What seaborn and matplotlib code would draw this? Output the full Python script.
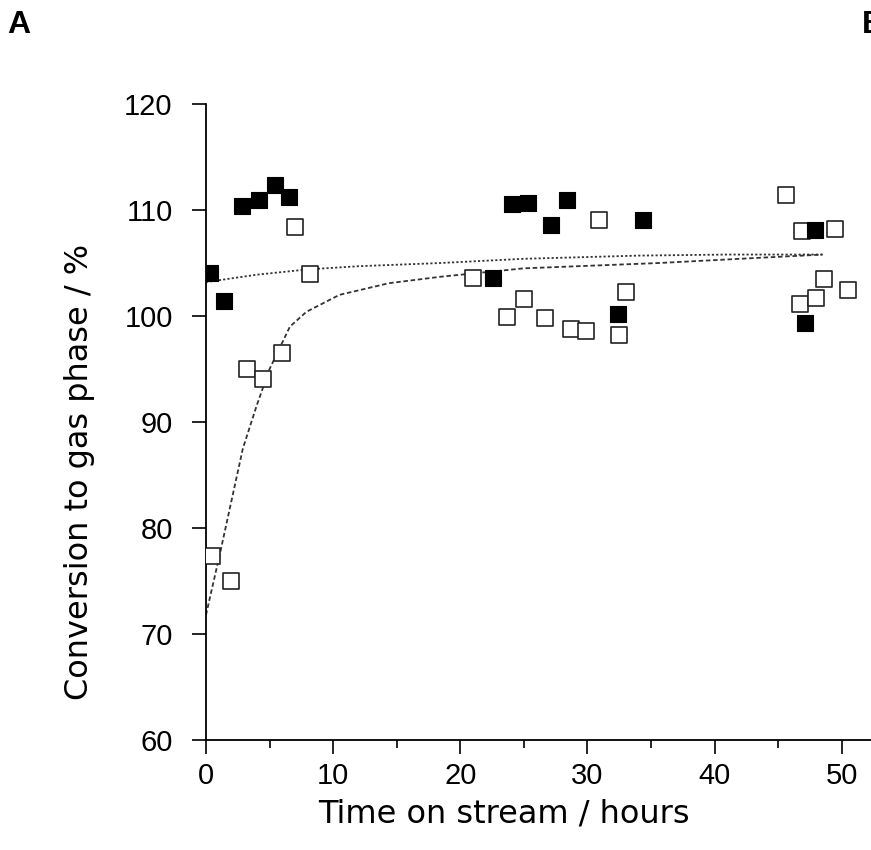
import matplotlib
matplotlib.use("Agg")
import matplotlib.pyplot as plt
import seaborn as sns
import pandas as pd
from matplotlib.ticker import MultipleLocator

# filled squares
filled_t = [0.3, 1.4, 2.8, 4.2, 5.4, 6.5, 22.6, 24.1, 25.3, 27.1, 28.4, 32.4, 34.4, 47.1, 47.9]
filled_c = [104.1, 101.4, 110.4, 110.9, 112.4, 111.2, 103.6, 110.6, 110.7, 108.6, 110.9, 100.2, 109.1, 99.3, 108.1]

# open squares
open_t = [0.5, 2.0, 3.2, 4.5, 6.0, 7.0, 8.2, 21.0, 23.7, 25.0, 26.7, 28.7, 29.9, 30.9, 32.5, 33.0,
          45.6, 46.7, 46.9, 48.0, 48.6, 49.5, 50.5]
open_c = [77.4, 75.0, 95.0, 94.1, 96.5, 108.4, 104.0, 103.6, 99.9, 101.6, 99.8, 98.8, 98.6, 109.1, 98.2, 102.3,
          111.4, 101.1, 108.0, 101.7, 103.5, 108.2, 102.5]

# fitted curves
fitA_t = [0, 4, 8, 12, 18.4, 25, 34, 41, 48.5]
fitA_c = [103.2, 103.9, 104.4, 104.7, 105.0, 105.4, 105.7, 105.8, 105.8]
fitB_t = [0, 1.1, 2.9, 4.0, 5.0, 6.6, 7.9, 10.5, 14.4, 18.4, 25, 35.6, 42, 48.5]
fitB_c = [71.8, 77.6, 87.5, 91.6, 95.0, 99.0, 100.4, 102.0, 103.1, 103.7, 104.5, 105.0, 105.4, 105.8]

sns.set_style("ticks")
plt.rcParams['font.family'] = ['Liberation Sans', 'DejaVu Sans']
plt.rcParams['text.color'] = 'black'
plt.rcParams['axes.labelcolor'] = 'black'
plt.rcParams['xtick.color'] = 'black'
plt.rcParams['ytick.color'] = 'black'

fig = plt.figure(figsize=(8.71, 8.5), dpi=100)
ax = fig.add_axes([0.2365, 0.1294, 0.7635, 0.7482])

dfA = pd.DataFrame({'t': fitA_t, 'c': fitA_c})
dfB = pd.DataFrame({'t': fitB_t, 'c': fitB_c})
sns.lineplot(data=dfA, x='t', y='c', ax=ax, color='#333333', lw=1.3, linestyle=(0, (1.2, 1.2)), sort=False)
sns.lineplot(data=dfB, x='t', y='c', ax=ax, color='#333333', lw=1.3, linestyle=(0, (2.5, 1.5)), sort=False)

dfF = pd.DataFrame({'t': filled_t, 'c': filled_c})
dfO = pd.DataFrame({'t': open_t, 'c': open_c})
sns.scatterplot(data=dfO, x='t', y='c', ax=ax, marker='s', s=140, facecolor='white',
                edgecolor='#222222', linewidth=1.2, zorder=3)
sns.scatterplot(data=dfF, x='t', y='c', ax=ax, marker='s', s=140, color='black',
                edgecolor='black', linewidth=0.8, zorder=4)

ax.set_xlim(0, 52.3)
ax.set_ylim(60, 120)
ax.xaxis.set_major_locator(MultipleLocator(10))
ax.xaxis.set_minor_locator(MultipleLocator(5))
ax.yaxis.set_major_locator(MultipleLocator(10))
ax.tick_params(axis='both', which='major', direction='out', length=10, width=1.2,
               labelsize=21, color='black', labelcolor='black')
ax.tick_params(axis='x', which='major', pad=6)
ax.tick_params(axis='y', which='major', pad=14)
ax.tick_params(axis='x', which='minor', direction='out', length=6, width=1.2)

for side in ['top', 'right']:
    ax.spines[side].set_visible(False)
for side in ['left', 'bottom']:
    ax.spines[side].set_linewidth(1.3)
    ax.spines[side].set_color('black')

ax.set_xlabel('Time on stream / hours', fontsize=23, family=['DejaVu Sans'])
ax.set_ylabel('Conversion to gas phase / %', fontsize=23, family=['DejaVu Sans'])
ax.xaxis.set_label_coords(0.448, -0.092)
ax.yaxis.set_label_coords(-0.167, 0.421)

fig.text(0.008, 0.971, 'A', fontsize=23, fontweight='bold', va='center', ha='left')
fig.text(0.99, 0.971, 'B', fontsize=23, fontweight='bold', va='center', ha='left')

fig.savefig('out.png', dpi=100, facecolor='white')
